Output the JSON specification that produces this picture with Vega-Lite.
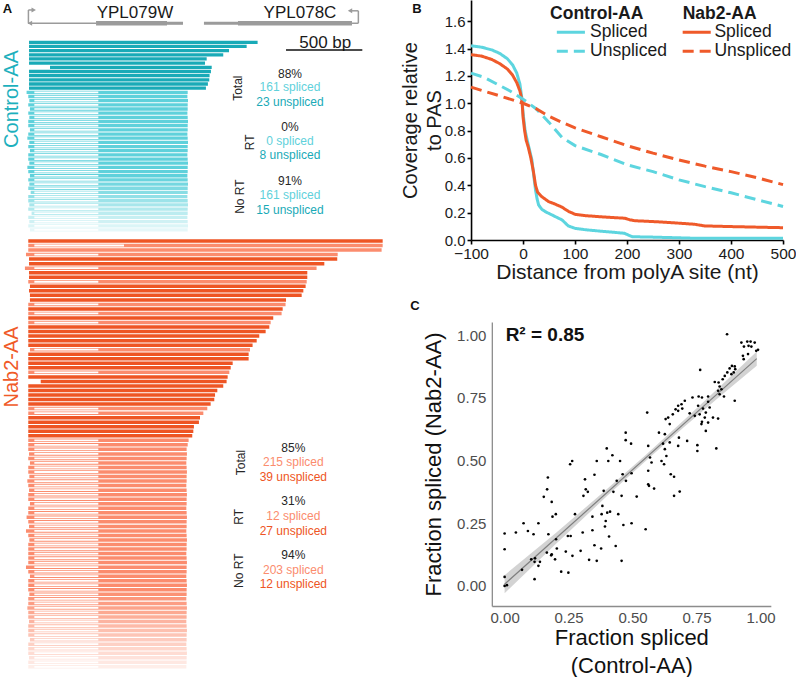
{
"$schema": "https://vega.github.io/schema/vega-lite/v6.json",
"padding": 0,
"spacing": 0,
"config": {"view": {"stroke": null}, "font": "Liberation Sans", "axis": {"grid": false}},
"resolve": {"scale": {"color": "independent", "opacity": "independent", "strokeDash": "independent", "strokeWidth": "independent", "shape": "independent"}},
"hconcat": [
{
 "width": 400, "height": 677,
 "encoding": {"x": {"field": "x", "type": "quantitative", "scale": {"domain": [0, 2632]}, "axis": null}},
 "layer": [
  {
   "encoding": {"y": {"field": "r", "type": "quantitative", "scale": {"domain": [-10.14, 152.2], "reverse": true}, "axis": null}},
   "layer": [
    {"data": {"values": [
      {"x":184,"x2":632,"r":-4.56,"r2":-4.56,"part":"line"},
      {"x":632,"x2":1099,"r":-4.56,"r2":-4.56,"part":"cds"},
      {"x":1099,"x2":1204,"r":-4.56,"r2":-4.56,"part":"utr"},
      {"x":1342,"x2":1566,"r":-4.56,"r2":-4.56,"part":"utr"},
      {"x":1566,"x2":2316,"r":-4.56,"r2":-4.56,"part":"cds"},
      {"x":2316,"x2":2358,"r":-4.56,"r2":-4.56,"part":"line"},
      {"x":187,"x2":187,"r":-4.56,"r2":-7.75,"part":"line"},
      {"x":187,"x2":215,"r":-7.75,"r2":-7.75,"part":"line"},
      {"x":2358,"x2":2358,"r":-4.56,"r2":-7.55,"part":"line"},
      {"x":2358,"x2":2312,"r":-7.55,"r2":-7.55,"part":"line"}
     ]},
     "mark": {"type": "rule", "color": "#9b9b9b"},
     "encoding": {"x2": {"field": "x2"}, "y2": {"field": "r2"},
       "strokeWidth": {"field": "part", "type": "nominal", "scale": {"domain": ["line","utr","cds"], "range": [1.5, 4.6, 7.3]}, "legend": null}}},
    {"data": {"values": [
      {"x":222,"r":-7.75,"dir":"R"},{"x":2303,"r":-7.55,"dir":"L"},{"x":197,"r":-4.56,"dir":"L"}
     ]},
     "mark": {"type": "point", "filled": true, "opacity": 1, "color": "#9b9b9b", "size": 26},
     "encoding": {"shape": {"field": "dir", "type": "nominal", "scale": {"domain": ["L","R"], "range": ["triangle-left","triangle-right"]}, "legend": null}}},
    {"data": {"values": [
      {"x":888,"r":-5.9,"txt":"YPL079W"},{"x":1974,"r":-5.9,"txt":"YPL078C"},{"x":2140,"r":1.44,"txt":"500 bp"}
     ]},
     "mark": {"type": "text", "fontSize": 17, "align": "center", "baseline": "alphabetic", "color": "#1a1a1a"},
     "encoding": {"text": {"field": "txt"}}},
    {"data": {"values": [{"x":1882,"x2":2384,"r":1.85}]},
     "mark": {"type": "rule", "color": "#111111", "strokeWidth": 1.6},
     "encoding": {"x2": {"field": "x2"}}},
    {"data": {"values": [
      {"r":0,"x":191,"x2":1695,"t":"C_u"},{"r":1,"x":191,"x2":1623,"t":"C_u"},{"r":2,"x":191,"x2":1507,"t":"C_u"},
      {"r":3,"x":191,"x2":1469,"t":"C_u"},{"r":4,"x":191,"x2":1360,"t":"C_u"},{"r":5,"x":191,"x2":1349,"t":"C_u"},
      {"r":6,"x":329,"x2":1393,"t":"C_u"},{"r":7,"x":191,"x2":1388,"t":"C_u"},{"r":8,"x":191,"x2":1379,"t":"C_u"},
      {"r":9,"x":191,"x2":1377,"t":"C_u"},{"r":10,"x":191,"x2":1368,"t":"C_u"},{"r":11,"x":191,"x2":1355,"t":"C_u"},
      {"r":12,"x":175,"x2":1235,"t":"C_s","ie":647},{"r":13,"x":186,"x2":1233,"t":"C_s","ie":647},
      {"r":14,"x":193,"x2":1237,"t":"C_s","ie":647},{"r":15,"x":186,"x2":1235,"t":"C_s","ie":647},
      {"r":16,"x":197,"x2":1235,"t":"C_s","ie":647},{"r":17,"x":186,"x2":1233,"t":"C_s","ie":647},
      {"r":18,"x":193,"x2":1235,"t":"C_s","ie":647},{"r":19,"x":186,"x2":1237,"t":"C_s","ie":647},
      {"r":20,"x":186,"x2":1235,"t":"C_s","ie":647},{"r":21,"x":197,"x2":1235,"t":"C_s","ie":647},
      {"r":22,"x":186,"x2":1233,"t":"C_s","ie":647},{"r":23,"x":180,"x2":1235,"t":"C_s","ie":647},
      {"r":24,"x":193,"x2":1237,"t":"C_s","ie":647},{"r":25,"x":186,"x2":1235,"t":"C_s","ie":647},
      {"r":26,"x":197,"x2":1235,"t":"C_s","ie":647},{"r":27,"x":186,"x2":1233,"t":"C_s","ie":647},
      {"r":28,"x":186,"x2":1235,"t":"C_s","ie":647},{"r":29,"x":193,"x2":1237,"t":"C_s","ie":647},
      {"r":30,"x":180,"x2":1235,"t":"C_s","ie":647},{"r":31,"x":186,"x2":1235,"t":"C_s","ie":647},
      {"r":32,"x":197,"x2":1233,"t":"C_s","ie":647},{"r":33,"x":186,"x2":1235,"t":"C_s","ie":647},
      {"r":34,"x":193,"x2":1237,"t":"C_s","ie":647},{"r":35,"x":186,"x2":1235,"t":"C_s","ie":647},
      {"r":36,"x":202,"x2":1235,"t":"C_s","ie":647},{"r":37,"x":186,"x2":1233,"t":"C_s","ie":647},
      {"r":38,"x":186,"x2":1235,"t":"C_s","ie":647},{"r":39,"x":193,"x2":1237,"t":"C_s","ie":647},
      {"r":40,"x":186,"x2":1235,"t":"C_s","ie":647},{"r":41,"x":208,"x2":1235,"t":"C_s","ie":647},
      {"r":42,"x":186,"x2":1233,"t":"C_s","ie":647},{"r":43,"x":193,"x2":1235,"t":"C_s","ie":647},
      {"r":44,"x":186,"x2":1237,"t":"C_s","ie":647},{"r":45,"x":197,"x2":1235,"t":"C_s","ie":647}
     ]},
     "layer": [
      {"mark": {"type": "rule", "strokeWidth": 3.3},
       "encoding": {"x2": {"field": "x2"},
        "color": {"field": "t", "type": "nominal", "scale": {"domain": ["k","C_u","C_s","N_u","N_s"], "range": ["#262626","#19aab7","#5fd1db","#ee5524","#fb8c6e"]}, "legend": null},
        "opacity": {"field": "r", "type": "quantitative", "scale": {"domain": [32, 46], "range": [1, 0.1], "clamp": true}, "legend": null}}},
      {"transform": [{"filter": "datum.ie"}],
       "mark": {"type": "rule", "strokeWidth": 1.7, "color": "#ffffff"},
       "encoding": {"x": {"datum": 226, "axis": null}, "x2": {"field": "ie"}}}
     ]},
    {"data": {"values": [
      {"x":1908,"r":7.65,"txt":"88%","c":"k"},{"x":1908,"r":10.8,"txt":"161 spliced","c":"C_s"},{"x":1908,"r":14.2,"txt":"23 unspliced","c":"C_u"},
      {"x":1908,"r":20.2,"txt":"0%","c":"k"},{"x":1908,"r":23.7,"txt":"0 spliced","c":"C_s"},{"x":1908,"r":27.1,"txt":"8 unspliced","c":"C_u"},
      {"x":1908,"r":33.2,"txt":"91%","c":"k"},{"x":1908,"r":36.6,"txt":"161 spliced","c":"C_s"},{"x":1908,"r":40.1,"txt":"15 unspliced","c":"C_u"}
     ]},
     "mark": {"type": "text", "fontSize": 12, "align": "center", "baseline": "middle"},
     "encoding": {"text": {"field": "txt"},
      "color": {"field": "c", "type": "nominal", "scale": {"domain": ["k","C_u","C_s","N_u","N_s"], "range": ["#262626","#19aab7","#5fd1db","#ee5524","#fb8c6e"]}, "legend": null}}},
    {"data": {"values": [
      {"x":1563,"r":11.0,"txt":"Total"},{"x":1645,"r":24.0,"txt":"RT"},{"x":1579,"r":37.0,"txt":"No RT"}
     ]},
     "mark": {"type": "text", "fontSize": 12, "angle": 270, "align": "center", "baseline": "middle", "color": "#262626"},
     "encoding": {"text": {"field": "txt"}}},
    {"data": {"values": [{"x":80,"r":13.6,"txt":"Control-AA"}]},
     "mark": {"type": "text", "fontSize": 20, "angle": 270, "align": "center", "baseline": "middle", "color": "#1db0bd"},
     "encoding": {"text": {"field": "txt"}}},
    {"data": {"values": [{"x":49,"r":-8.0,"txt":"A"}]},
     "mark": {"type": "text", "fontSize": 13, "fontWeight": "bold", "align": "center", "baseline": "middle", "color": "#111111"},
     "encoding": {"text": {"field": "txt"}}}
   ]
  },
  {
   "encoding": {"y": {"field": "r", "type": "quantitative", "scale": {"domain": [-53.2, 96.25], "reverse": true}, "axis": null}},
   "layer": [
    {"data": {"values": [
      {"r":0,"x":186,"x2":2518,"t":"N_u"},{"r":1,"x":186,"x2":2518,"t":"N_s","ie":816},{"r":2,"x":186,"x2":2511,"t":"N_s"},
      {"r":3,"x":171,"x2":2222,"t":"N_s","ie":647},{"r":4,"x":191,"x2":2219,"t":"N_u"},{"r":5,"x":191,"x2":2134,"t":"N_u"},
      {"r":6,"x":164,"x2":2083,"t":"N_s","ie":647},{"r":7,"x":191,"x2":2022,"t":"N_u"},{"r":8,"x":191,"x2":2022,"t":"N_u"},
      {"r":9,"x":186,"x2":2018,"t":"N_s","ie":647},{"r":10,"x":197,"x2":2011,"t":"N_u"},{"r":11,"x":191,"x2":1996,"t":"N_u"},
      {"r":12,"x":197,"x2":1985,"t":"N_u"},{"r":13,"x":197,"x2":1882,"t":"N_u"},{"r":14,"x":186,"x2":1879,"t":"N_s","ie":647},
      {"r":15,"x":186,"x2":1860,"t":"N_u"},{"r":16,"x":186,"x2":1853,"t":"N_s","ie":647},{"r":17,"x":186,"x2":1798,"t":"N_u"},
      {"r":18,"x":186,"x2":1781,"t":"N_s","ie":647},{"r":19,"x":186,"x2":1772,"t":"N_u"},{"r":20,"x":186,"x2":1748,"t":"N_u"},
      {"r":21,"x":186,"x2":1706,"t":"N_u"},{"r":22,"x":186,"x2":1689,"t":"N_u"},{"r":23,"x":186,"x2":1662,"t":"N_u"},
      {"r":24,"x":197,"x2":1645,"t":"N_s","ie":647},{"r":25,"x":186,"x2":1636,"t":"N_u"},{"r":26,"x":186,"x2":1636,"t":"N_u"},
      {"r":27,"x":186,"x2":1531,"t":"N_u"},{"r":28,"x":186,"x2":1518,"t":"N_u"},{"r":29,"x":186,"x2":1509,"t":"N_s","ie":647},
      {"r":30,"x":186,"x2":1498,"t":"N_u"},{"r":31,"x":268,"x2":1491,"t":"N_u"},{"r":32,"x":186,"x2":1469,"t":"N_u"},
      {"r":33,"x":186,"x2":1430,"t":"N_u"},{"r":34,"x":186,"x2":1415,"t":"N_u"},{"r":35,"x":186,"x2":1410,"t":"N_u"},
      {"r":36,"x":186,"x2":1386,"t":"N_u"},{"r":37,"x":186,"x2":1364,"t":"N_s","ie":647},{"r":38,"x":186,"x2":1338,"t":"N_s","ie":647},
      {"r":39,"x":186,"x2":1316,"t":"N_u"},{"r":40,"x":186,"x2":1309,"t":"N_u"},{"r":41,"x":186,"x2":1276,"t":"N_u"},
      {"r":42,"x":186,"x2":1272,"t":"N_u"},{"r":43,"x":186,"x2":1265,"t":"N_u"},{"r":44,"x":186,"x2":1241,"t":"N_s","ie":647},
      {"r":45,"x":186,"x2":1235,"t":"N_s","ie":647},
      {"r":46,"x":186,"x2":1228,"t":"N_s","ie":647},{"r":47,"x":191,"x2":1230,"t":"N_s","ie":647},{"r":48,"x":186,"x2":1228,"t":"N_s","ie":647},
      {"r":49,"x":197,"x2":1226,"t":"N_s","ie":647},{"r":50,"x":186,"x2":1228,"t":"N_s","ie":647},{"r":51,"x":186,"x2":1230,"t":"N_s","ie":647},
      {"r":52,"x":193,"x2":1228,"t":"N_s","ie":647},{"r":53,"x":180,"x2":1228,"t":"N_s","ie":647},{"r":54,"x":186,"x2":1226,"t":"N_s","ie":647},
      {"r":55,"x":191,"x2":1228,"t":"N_s","ie":647},{"r":56,"x":186,"x2":1230,"t":"N_s","ie":647},{"r":57,"x":186,"x2":1228,"t":"N_s","ie":647},
      {"r":58,"x":197,"x2":1228,"t":"N_s","ie":647},{"r":59,"x":186,"x2":1226,"t":"N_s","ie":647},{"r":60,"x":186,"x2":1228,"t":"N_s","ie":647},
      {"r":61,"x":175,"x2":1230,"t":"N_s","ie":647},{"r":62,"x":186,"x2":1228,"t":"N_s","ie":647},{"r":63,"x":191,"x2":1228,"t":"N_s","ie":647},
      {"r":64,"x":171,"x2":1226,"t":"N_s","ie":647},{"r":65,"x":186,"x2":1228,"t":"N_s","ie":647},{"r":66,"x":193,"x2":1230,"t":"N_s","ie":647},
      {"r":67,"x":186,"x2":1228,"t":"N_s","ie":647},{"r":68,"x":186,"x2":1228,"t":"N_s","ie":647},{"r":69,"x":186,"x2":1226,"t":"N_s","ie":647},
      {"r":70,"x":186,"x2":1228,"t":"N_s","ie":647},{"r":71,"x":186,"x2":1230,"t":"N_s","ie":647},{"r":72,"x":171,"x2":1228,"t":"N_s","ie":647},
      {"r":73,"x":186,"x2":1228,"t":"N_s","ie":647},{"r":74,"x":197,"x2":1226,"t":"N_s","ie":647},{"r":75,"x":186,"x2":1228,"t":"N_s","ie":647},
      {"r":76,"x":186,"x2":1230,"t":"N_s","ie":647},{"r":77,"x":186,"x2":1228,"t":"N_s","ie":647},{"r":78,"x":193,"x2":1228,"t":"N_s","ie":647},
      {"r":79,"x":186,"x2":1226,"t":"N_s","ie":647},{"r":80,"x":186,"x2":1228,"t":"N_s","ie":647},{"r":81,"x":180,"x2":1230,"t":"N_s","ie":647},
      {"r":82,"x":186,"x2":1228,"t":"N_s","ie":647},{"r":83,"x":186,"x2":1228,"t":"N_s","ie":647},{"r":84,"x":191,"x2":1226,"t":"N_s","ie":647},
      {"r":85,"x":186,"x2":1228,"t":"N_s","ie":647},{"r":86,"x":186,"x2":1230,"t":"N_s","ie":647},{"r":87,"x":186,"x2":1228,"t":"N_s","ie":647},
      {"r":88,"x":197,"x2":1228,"t":"N_s","ie":647},{"r":89,"x":186,"x2":1226,"t":"N_s","ie":647},{"r":90,"x":186,"x2":1228,"t":"N_s","ie":647},
      {"r":91,"x":186,"x2":1230,"t":"N_s","ie":647},{"r":92,"x":191,"x2":1228,"t":"N_s","ie":647},{"r":93,"x":186,"x2":1228,"t":"N_s","ie":647},
      {"r":94,"x":186,"x2":1226,"t":"N_s","ie":647}
     ]},
     "layer": [
      {"mark": {"type": "rule", "strokeWidth": 3.5},
       "encoding": {"x2": {"field": "x2"},
        "color": {"field": "t", "type": "nominal", "scale": {"domain": ["k","C_u","C_s","N_u","N_s"], "range": ["#262626","#19aab7","#5fd1db","#ee5524","#fb8c6e"]}, "legend": null},
        "opacity": {"field": "r", "type": "quantitative", "scale": {"domain": [77, 95], "range": [1, 0.1], "clamp": true}, "legend": null}}},
      {"transform": [{"filter": "datum.ie"}],
       "mark": {"type": "rule", "strokeWidth": 1.8, "color": "#ffffff"},
       "encoding": {"x": {"datum": 226, "axis": null}, "x2": {"field": "ie"}}}
     ]},
    {"data": {"values": [
      {"x":1930,"r":45.6,"txt":"85%","c":"k"},{"x":1930,"r":48.8,"txt":"215 spliced","c":"N_s"},{"x":1930,"r":52.0,"txt":"39 unspliced","c":"N_u"},
      {"x":1930,"r":57.4,"txt":"31%","c":"k"},{"x":1930,"r":60.7,"txt":"12 spliced","c":"N_s"},{"x":1930,"r":64.0,"txt":"27 unspliced","c":"N_u"},
      {"x":1930,"r":69.3,"txt":"94%","c":"k"},{"x":1930,"r":72.6,"txt":"203 spliced","c":"N_s"},{"x":1930,"r":75.8,"txt":"12 unspliced","c":"N_u"}
     ]},
     "mark": {"type": "text", "fontSize": 12, "align": "center", "baseline": "middle"},
     "encoding": {"text": {"field": "txt"},
      "color": {"field": "c", "type": "nominal", "scale": {"domain": ["k","C_u","C_s","N_u","N_s"], "range": ["#262626","#19aab7","#5fd1db","#ee5524","#fb8c6e"]}, "legend": null}}},
    {"data": {"values": [
      {"x":1585,"r":48.9,"txt":"Total"},{"x":1570,"r":60.9,"txt":"RT"},{"x":1575,"r":72.8,"txt":"No RT"}
     ]},
     "mark": {"type": "text", "fontSize": 12, "angle": 270, "align": "center", "baseline": "middle", "color": "#262626"},
     "encoding": {"text": {"field": "txt"}}},
    {"data": {"values": [{"x":80,"r":27.8,"txt":"Nab2-AA"}]},
     "mark": {"type": "text", "fontSize": 20, "angle": 270, "align": "center", "baseline": "middle", "color": "#f05a28"},
     "encoding": {"text": {"field": "txt"}}}
   ]
  }
 ],
 "resolve": {"scale": {"y": "independent", "opacity": "independent"}}
},
{
 "spacing": 16,
 "center": true,
 "vconcat": [
  {
   "width": 312, "height": 240,
   "encoding": {
    "x": {"field": "x", "type": "quantitative", "scale": {"domain": [-100, 500]},
     "axis": {"title": "Distance from polyA site (nt)", "values": [-100,0,100,200,300,400,500], "format": "d", "labelFlush": false, "labelOverlap": false,
      "domainColor": "#000000", "domainWidth": 1.6, "tickColor": "#000000", "tickWidth": 1.6, "tickSize": 4,
      "labelFontSize": 15.5, "labelColor": "#1a1a1a", "labelPadding": 2, "titleFontSize": 21, "titleFontWeight": "normal", "titleColor": "#1a1a1a", "titlePadding": 0}},
    "y": {"field": "y", "type": "quantitative", "scale": {"domain": [0, 1.755]},
     "axis": {"title": ["Coverage relative", "to PAS"], "values": [0,0.2,0.4,0.6,0.8,1,1.2,1.4,1.6], "format": ".1f", "labelFlush": false, "labelOverlap": false,
      "domainColor": "#000000", "domainWidth": 1.6, "tickColor": "#000000", "tickWidth": 1.6, "tickSize": 4,
      "labelFontSize": 15, "labelColor": "#1a1a1a", "labelPadding": 2, "titleFontSize": 20, "titleFontWeight": "normal", "titleColor": "#1a1a1a", "titlePadding": 0, "titleLineHeight": 24}}
   },
   "layer": [
    {"data": {"values": [
      {"g":"Control","s":"Spliced","x":-100,"y":1.42},{"g":"Control","s":"Spliced","x":-80,"y":1.41},{"g":"Control","s":"Spliced","x":-60,"y":1.39},
      {"g":"Control","s":"Spliced","x":-45,"y":1.365},{"g":"Control","s":"Spliced","x":-30,"y":1.325},{"g":"Control","s":"Spliced","x":-20,"y":1.28},
      {"g":"Control","s":"Spliced","x":-12,"y":1.22},{"g":"Control","s":"Spliced","x":-6,"y":1.14},{"g":"Control","s":"Spliced","x":-2,"y":1.03},
      {"g":"Control","s":"Spliced","x":0,"y":0.93},{"g":"Control","s":"Spliced","x":4,"y":0.8},{"g":"Control","s":"Spliced","x":8,"y":0.73},
      {"g":"Control","s":"Spliced","x":13,"y":0.65},{"g":"Control","s":"Spliced","x":17,"y":0.586},{"g":"Control","s":"Spliced","x":21,"y":0.46},
      {"g":"Control","s":"Spliced","x":24,"y":0.366},{"g":"Control","s":"Spliced","x":27,"y":0.3},{"g":"Control","s":"Spliced","x":30,"y":0.256},
      {"g":"Control","s":"Spliced","x":36,"y":0.225},{"g":"Control","s":"Spliced","x":43,"y":0.207},{"g":"Control","s":"Spliced","x":52,"y":0.19},
      {"g":"Control","s":"Spliced","x":62,"y":0.171},{"g":"Control","s":"Spliced","x":75,"y":0.147},{"g":"Control","s":"Spliced","x":87,"y":0.103},
      {"g":"Control","s":"Spliced","x":100,"y":0.085},{"g":"Control","s":"Spliced","x":120,"y":0.075},{"g":"Control","s":"Spliced","x":145,"y":0.066},
      {"g":"Control","s":"Spliced","x":170,"y":0.058},{"g":"Control","s":"Spliced","x":195,"y":0.049},{"g":"Control","s":"Spliced","x":203,"y":0.035},
      {"g":"Control","s":"Spliced","x":210,"y":0.024},{"g":"Control","s":"Spliced","x":250,"y":0.021},{"g":"Control","s":"Spliced","x":300,"y":0.016},
      {"g":"Control","s":"Spliced","x":336,"y":0.012},{"g":"Control","s":"Spliced","x":400,"y":0.012},{"g":"Control","s":"Spliced","x":500,"y":0.012},
      {"g":"Nab2","s":"Spliced","x":-100,"y":1.355},{"g":"Nab2","s":"Spliced","x":-80,"y":1.345},{"g":"Nab2","s":"Spliced","x":-60,"y":1.32},
      {"g":"Nab2","s":"Spliced","x":-45,"y":1.29},{"g":"Nab2","s":"Spliced","x":-30,"y":1.25},{"g":"Nab2","s":"Spliced","x":-20,"y":1.205},
      {"g":"Nab2","s":"Spliced","x":-12,"y":1.15},{"g":"Nab2","s":"Spliced","x":-6,"y":1.09},{"g":"Nab2","s":"Spliced","x":-2,"y":1.02},
      {"g":"Nab2","s":"Spliced","x":0,"y":0.9},{"g":"Nab2","s":"Spliced","x":3,"y":0.8},{"g":"Nab2","s":"Spliced","x":6,"y":0.73},
      {"g":"Nab2","s":"Spliced","x":10,"y":0.68},{"g":"Nab2","s":"Spliced","x":15,"y":0.6},{"g":"Nab2","s":"Spliced","x":20,"y":0.5},
      {"g":"Nab2","s":"Spliced","x":24,"y":0.4},{"g":"Nab2","s":"Spliced","x":28,"y":0.35},{"g":"Nab2","s":"Spliced","x":36,"y":0.317},
      {"g":"Nab2","s":"Spliced","x":49,"y":0.281},{"g":"Nab2","s":"Spliced","x":60,"y":0.265},{"g":"Nab2","s":"Spliced","x":75,"y":0.24},
      {"g":"Nab2","s":"Spliced","x":87,"y":0.21},{"g":"Nab2","s":"Spliced","x":100,"y":0.188},{"g":"Nab2","s":"Spliced","x":120,"y":0.178},
      {"g":"Nab2","s":"Spliced","x":145,"y":0.171},{"g":"Nab2","s":"Spliced","x":170,"y":0.165},{"g":"Nab2","s":"Spliced","x":196,"y":0.159},
      {"g":"Nab2","s":"Spliced","x":205,"y":0.148},{"g":"Nab2","s":"Spliced","x":215,"y":0.141},{"g":"Nab2","s":"Spliced","x":260,"y":0.133},
      {"g":"Nab2","s":"Spliced","x":304,"y":0.122},{"g":"Nab2","s":"Spliced","x":330,"y":0.115},{"g":"Nab2","s":"Spliced","x":349,"y":0.103},
      {"g":"Nab2","s":"Spliced","x":400,"y":0.098},{"g":"Nab2","s":"Spliced","x":450,"y":0.094},{"g":"Nab2","s":"Spliced","x":500,"y":0.09},
      {"g":"Control","s":"Unspliced","x":-100,"y":1.22},{"g":"Control","s":"Unspliced","x":-75,"y":1.19},{"g":"Control","s":"Unspliced","x":-50,"y":1.14},
      {"g":"Control","s":"Unspliced","x":-25,"y":1.09},{"g":"Control","s":"Unspliced","x":0,"y":1.03},{"g":"Control","s":"Unspliced","x":25,"y":0.96},
      {"g":"Control","s":"Unspliced","x":50,"y":0.86},{"g":"Control","s":"Unspliced","x":75,"y":0.75},{"g":"Control","s":"Unspliced","x":100,"y":0.69},
      {"g":"Control","s":"Unspliced","x":150,"y":0.625},{"g":"Control","s":"Unspliced","x":200,"y":0.55},{"g":"Control","s":"Unspliced","x":250,"y":0.5},
      {"g":"Control","s":"Unspliced","x":300,"y":0.44},{"g":"Control","s":"Unspliced","x":350,"y":0.39},{"g":"Control","s":"Unspliced","x":400,"y":0.345},
      {"g":"Control","s":"Unspliced","x":450,"y":0.295},{"g":"Control","s":"Unspliced","x":500,"y":0.245},
      {"g":"Nab2","s":"Unspliced","x":-100,"y":1.118},{"g":"Nab2","s":"Unspliced","x":-50,"y":1.06},{"g":"Nab2","s":"Unspliced","x":0,"y":1.0},
      {"g":"Nab2","s":"Unspliced","x":25,"y":0.96},{"g":"Nab2","s":"Unspliced","x":50,"y":0.905},{"g":"Nab2","s":"Unspliced","x":75,"y":0.86},
      {"g":"Nab2","s":"Unspliced","x":100,"y":0.82},{"g":"Nab2","s":"Unspliced","x":150,"y":0.755},{"g":"Nab2","s":"Unspliced","x":200,"y":0.69},
      {"g":"Nab2","s":"Unspliced","x":250,"y":0.635},{"g":"Nab2","s":"Unspliced","x":300,"y":0.585},{"g":"Nab2","s":"Unspliced","x":350,"y":0.54},
      {"g":"Nab2","s":"Unspliced","x":400,"y":0.5},{"g":"Nab2","s":"Unspliced","x":450,"y":0.455},{"g":"Nab2","s":"Unspliced","x":500,"y":0.405}
     ]},
     "mark": {"type": "line", "strokeWidth": 3},
     "encoding": {
      "color": {"field": "g", "type": "nominal", "scale": {"domain": ["Control","Nab2"], "range": ["#5dd5df","#ef5a2a"]}, "legend": null},
      "strokeDash": {"field": "s", "type": "nominal", "scale": {"domain": ["Spliced","Unspliced"], "range": [[1,0],[11,6]]}, "legend": null}}},
    {"data": {"values": [
      {"g":"Control","s":"Spliced","x":65,"x2":119,"y":1.519},{"g":"Control","s":"Unspliced","x":65,"x2":119,"y":1.38},
      {"g":"Nab2","s":"Spliced","x":307,"x2":361,"y":1.519},{"g":"Nab2","s":"Unspliced","x":307,"x2":361,"y":1.38}
     ]},
     "mark": {"type": "rule", "strokeWidth": 3},
     "encoding": {"x2": {"field": "x2"},
      "color": {"field": "g", "type": "nominal", "scale": {"domain": ["Control","Nab2"], "range": ["#5dd5df","#ef5a2a"]}, "legend": null},
      "strokeDash": {"field": "s", "type": "nominal", "scale": {"domain": ["Spliced","Unspliced"], "range": [[1,0],[11,6]]}, "legend": null}}},
    {"data": {"values": [{"x":52,"y":1.656,"txt":"Control-AA"},{"x":307,"y":1.656,"txt":"Nab2-AA"}]},
     "mark": {"type": "text", "fontSize": 17.5, "fontWeight": "bold", "align": "left", "baseline": "middle", "color": "#1a1a1a"},
     "encoding": {"text": {"field": "txt"}}},
    {"data": {"values": [
      {"x":129,"y":1.519,"txt":"Spliced"},{"x":129,"y":1.38,"txt":"Unspliced"},{"x":368,"y":1.519,"txt":"Spliced"},{"x":368,"y":1.38,"txt":"Unspliced"}
     ]},
     "mark": {"type": "text", "fontSize": 17.5, "align": "left", "baseline": "middle", "color": "#1a1a1a"},
     "encoding": {"text": {"field": "txt"}}},
    {"data": {"values": [{"x":-204,"y":1.69,"txt":"B"}]},
     "mark": {"type": "text", "fontSize": 13, "fontWeight": "bold", "align": "center", "baseline": "middle", "color": "#111111"},
     "encoding": {"text": {"field": "txt"}}}
   ]
  },
  {
   "width": 279, "height": 284,
   "encoding": {
    "x": {"field": "x", "type": "quantitative", "scale": {"domain": [-0.05, 1.04]},
     "axis": {"title": ["Fraction spliced", "(Control-AA)"], "values": [0,0.25,0.5,0.75,1], "format": ".2f", "labelFlush": false, "labelOverlap": false, "ticks": false,
      "domainColor": "#8c8c8c", "domainWidth": 1.3, "labelFontSize": 15, "labelColor": "#4d4d4d", "labelPadding": 4,
      "titleFontSize": 22, "titleFontWeight": "normal", "titleColor": "#111111", "titlePadding": 2, "titleLineHeight": 28}},
    "y": {"field": "y", "type": "quantitative", "scale": {"domain": [-0.08, 1.052]},
     "axis": {"title": "Fraction spliced (Nab2-AA)", "values": [0,0.25,0.5,0.75,1], "format": ".2f", "labelFlush": false, "labelOverlap": false, "ticks": false,
      "domainColor": "#8c8c8c", "domainWidth": 1.3, "labelFontSize": 15, "labelColor": "#4d4d4d", "labelPadding": 6,
      "titleFontSize": 22, "titleFontWeight": "normal", "titleColor": "#111111", "titlePadding": 11}}
   },
   "layer": [
    {"data": {"values": [
      {"x":0,"y":-0.029,"y2":0.043},{"x":0.2,"y":0.167,"y2":0.211},{"x":0.4,"y":0.358,"y2":0.386},{"x":0.55,"y":0.497,"y2":0.521},
      {"x":0.7,"y":0.632,"y2":0.66},{"x":0.85,"y":0.763,"y2":0.803},{"x":0.985,"y":0.878,"y2":0.934}
     ]},
     "mark": {"type": "area", "color": "#c4c4c4", "opacity": 0.75},
     "encoding": {"y2": {"field": "y2"}}},
    {"data": {"values": [{"x":0,"y":0.007},{"x":0.985,"y":0.906}]},
     "mark": {"type": "line", "color": "#7f7f7f", "strokeWidth": 1.2}, "encoding": {}},
    {"data": {"values": [
      {"x":0.869,"y":1.003},{"x":0.925,"y":0.97},{"x":0.948,"y":0.974},{"x":0.961,"y":0.974},{"x":0.977,"y":0.97},{"x":0.953,"y":0.957},
      {"x":0.935,"y":0.954},{"x":0.964,"y":0.954},{"x":0.983,"y":0.937},{"x":0.99,"y":0.941},{"x":0.931,"y":0.917},{"x":0.934,"y":0.904},
      {"x":0.951,"y":0.924},{"x":0.764,"y":0.861},{"x":0.888,"y":0.877},{"x":0.899,"y":0.875},{"x":0.901,"y":0.864},{"x":0.879,"y":0.867},
      {"x":0.87,"y":0.851},{"x":0.886,"y":0.844},{"x":0.895,"y":0.851},{"x":0.86,"y":0.837},{"x":0.852,"y":0.824},{"x":0.836,"y":0.811},
      {"x":0.821,"y":0.813},{"x":0.84,"y":0.795},{"x":0.847,"y":0.784},{"x":0.834,"y":0.778},{"x":0.84,"y":0.764},{"x":0.857,"y":0.755},
      {"x":0.899,"y":0.738},{"x":0.795,"y":0.755},{"x":0.771,"y":0.751},{"x":0.758,"y":0.755},{"x":0.795,"y":0.734},{"x":0.775,"y":0.707},
      {"x":0.801,"y":0.711},{"x":0.756,"y":0.718},{"x":0.786,"y":0.691},{"x":0.762,"y":0.684},{"x":0.782,"y":0.671},{"x":0.814,"y":0.671},
      {"x":0.834,"y":0.667},{"x":0.771,"y":0.654},{"x":0.795,"y":0.651},{"x":0.769,"y":0.645},{"x":0.786,"y":0.618},{"x":0.827,"y":0.548},
      {"x":0.734,"y":0.751},{"x":0.704,"y":0.738},{"x":0.691,"y":0.724},{"x":0.678,"y":0.718},{"x":0.668,"y":0.704},{"x":0.657,"y":0.684},
      {"x":0.645,"y":0.645},{"x":0.678,"y":0.698},{"x":0.694,"y":0.707},{"x":0.723,"y":0.688},{"x":0.639,"y":0.671},{"x":0.629,"y":0.665},
      {"x":0.743,"y":0.678},{"x":0.557,"y":0.691},{"x":0.603,"y":0.611},{"x":0.713,"y":0.578},{"x":0.681,"y":0.591},{"x":0.626,"y":0.605},
      {"x":0.678,"y":0.558},{"x":0.645,"y":0.572},{"x":0.753,"y":0.561},{"x":0.753,"y":0.538},{"x":0.626,"y":0.545},{"x":0.632,"y":0.518},
      {"x":0.623,"y":0.485},{"x":0.613,"y":0.498},{"x":0.619,"y":0.567},{"x":0.561,"y":0.558},{"x":0.568,"y":0.512},{"x":0.574,"y":0.492},
      {"x":0.561,"y":0.459},{"x":0.561,"y":0.405},{"x":0.564,"y":0.399},{"x":0.584,"y":0.388},{"x":0.649,"y":0.445},{"x":0.662,"y":0.435},
      {"x":0.684,"y":0.376},{"x":0.662,"y":0.359},{"x":0.473,"y":0.611},{"x":0.473,"y":0.581},{"x":0.494,"y":0.567},{"x":0.399,"y":0.548},
      {"x":0.421,"y":0.521},{"x":0.405,"y":0.498},{"x":0.451,"y":0.498},{"x":0.36,"y":0.498},{"x":0.351,"y":0.443},{"x":0.314,"y":0.425},
      {"x":0.317,"y":0.385},{"x":0.325,"y":0.375},{"x":0.256,"y":0.485},{"x":0.264,"y":0.498},{"x":0.169,"y":0.432},{"x":0.166,"y":0.385},
      {"x":0.153,"y":0.355},{"x":0.184,"y":0.335},{"x":0.387,"y":0.379},{"x":0.425,"y":0.375},{"x":0.438,"y":0.419},{"x":0.457,"y":0.359},
      {"x":0.474,"y":0.419},{"x":0.496,"y":0.449},{"x":0.516,"y":0.356},{"x":0.461,"y":0.445},{"x":0.382,"y":0.319},
      {"x":0,"y":0.209},{"x":0,"y":0.146},{"x":0,"y":0.036},{"x":0,"y":0},{"x":0.009,"y":0.003},{"x":0.044,"y":0.213},
      {"x":0.074,"y":0.25},{"x":0.091,"y":0.219},{"x":0.113,"y":0.206},{"x":0.132,"y":0.25},{"x":0.187,"y":0.276},{"x":0.2,"y":0.286},
      {"x":0.171,"y":0.206},{"x":0.165,"y":0.133},{"x":0.182,"y":0.122},{"x":0.184,"y":0.126},{"x":0.201,"y":0.186},{"x":0.204,"y":0.149},
      {"x":0.197,"y":0.106},{"x":0.104,"y":0.106},{"x":0.117,"y":0.096},{"x":0.119,"y":0.11},{"x":0.138,"y":0.096},{"x":0.132,"y":0.08},
      {"x":0.117,"y":0.027},{"x":0.068,"y":0.064},{"x":0.221,"y":0.057},{"x":0.249,"y":0.053},{"x":0.239,"y":0.137},{"x":0.265,"y":0.12},
      {"x":0.275,"y":0.286},{"x":0.247,"y":0.199},{"x":0.258,"y":0.199},{"x":0.305,"y":0.213},{"x":0.297,"y":0.14},{"x":0.33,"y":0.104},
      {"x":0.343,"y":0.276},{"x":0.343,"y":0.222},{"x":0.351,"y":0.162},{"x":0.36,"y":0.1},{"x":0.377,"y":0.149},{"x":0.392,"y":0.237},
      {"x":0.395,"y":0.259},{"x":0.379,"y":0.286},{"x":0.401,"y":0.292},{"x":0.412,"y":0.296},{"x":0.408,"y":0.197},{"x":0.434,"y":0.159},
      {"x":0.444,"y":0.286},{"x":0.464,"y":0.243},{"x":0.457,"y":0.1},{"x":0.496,"y":0.25},{"x":0.551,"y":0.226},{"x":0.308,"y":0.359}
     ]},
     "mark": {"type": "point", "filled": true, "opacity": 1, "color": "#000000", "size": 7}},
    {"data": {"values": [{"x":0.004,"y":1.0,"txt":"R² = 0.85"}]},
     "mark": {"type": "text", "fontSize": 19, "fontWeight": "bold", "align": "left", "baseline": "middle", "color": "#111111"},
     "encoding": {"text": {"field": "txt"}}},
    {"data": {"values": [{"x":-0.35,"y":1.116,"txt":"C"}]},
     "mark": {"type": "text", "fontSize": 13, "fontWeight": "bold", "align": "center", "baseline": "middle", "color": "#111111"},
     "encoding": {"text": {"field": "txt"}}}
   ]
  }
 ]
}
]
}
